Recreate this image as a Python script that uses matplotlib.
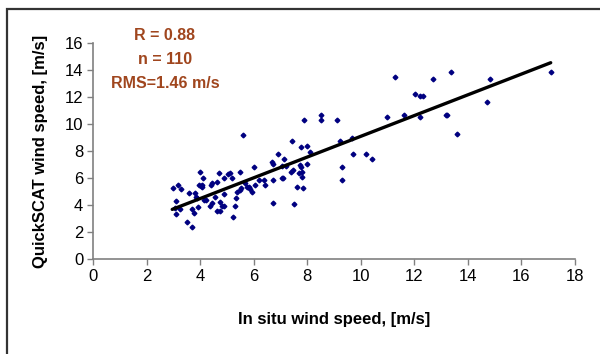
import numpy as np
import matplotlib.pyplot as plt
from matplotlib.patches import Rectangle

# In situ vs QuickSCAT wind speed (m/s)
insitu = [2.99, 3.10, 3.17, 3.10, 3.29, 3.24, 3.53, 3.59, 3.70, 3.70,
          3.76, 3.81, 3.84, 3.89, 3.93, 3.96, 3.99, 4.06, 4.07, 4.11,
          4.13, 4.24, 4.36, 4.39, 4.46, 4.43, 4.64, 4.64, 4.71, 4.76,
          4.74, 4.81, 4.89, 4.89, 4.91, 5.11, 5.19, 5.24, 5.30, 5.36,
          5.39, 5.49, 5.49, 5.53, 5.59, 5.67, 5.81, 5.86, 5.93, 6.00,
          6.07, 6.39, 6.44, 6.67, 6.71, 6.73, 6.73, 6.91, 7.07, 7.06,
          7.10, 7.14, 7.39, 7.43, 7.46, 7.50, 7.63, 7.70, 7.73, 7.76,
          7.77, 7.80, 7.81, 7.86, 7.89, 7.99, 8.00, 8.10, 8.53, 8.53,
          9.11, 9.24, 9.31, 9.31, 9.67, 9.71, 10.20, 10.43, 10.97, 11.27,
          11.63, 12.03, 12.21, 12.21, 12.34, 12.71, 13.17, 13.24, 13.36, 13.60,
          14.71, 14.84, 17.10, 3.05, 4.02, 4.55, 5.05, 5.75, 6.20, 7.20]
quikscat = [5.25, 4.31, 5.49, 3.33, 5.17, 3.69, 2.73, 4.93, 2.36, 3.69,
            3.45, 4.93, 4.63, 4.50, 3.84, 5.49, 6.45, 5.49, 5.37, 5.99,
            4.38, 4.38, 3.94, 5.49, 5.62, 4.19, 5.74, 3.60, 6.35, 3.60,
            4.21, 3.94, 5.99, 4.80, 3.97, 6.35, 5.99, 3.10, 3.94, 4.50,
            5.00, 6.43, 5.12, 5.30, 9.21, 5.62, 5.32, 5.17, 5.00, 6.85,
            5.49, 5.86, 5.49, 7.17, 7.04, 5.86, 4.19, 7.78, 6.92, 5.99,
            5.99, 7.41, 6.48, 8.77, 6.60, 4.09, 5.37, 6.35, 6.97, 8.28,
            6.85, 6.48, 6.11, 5.25, 10.30, 8.40, 7.04, 7.91, 10.67, 10.30,
            10.30, 8.74, 6.85, 5.86, 8.99, 7.78, 7.78, 7.41, 10.54, 13.50,
            10.67, 12.20, 12.09, 10.54, 12.09, 13.30, 10.67, 10.67, 13.87, 9.24,
            11.60, 13.30, 13.87, 3.80, 5.45, 4.60, 6.30, 5.35, 5.85, 6.90]

# linear fit line end points
fit_x = [2.96, 17.10]
fit_y = [3.69, 14.53]

stats = ["R = 0.88", "n = 110", "RMS=1.46 m/s"]

plt.rcParams['font.family'] = ['Liberation Sans', 'DejaVu Sans']

fig = plt.figure(figsize=(6, 3.54), dpi=100)
ax = fig.add_axes([0.155, 0.2675, 0.803, 0.6115])

ax.plot(insitu, quikscat, linestyle='none', marker='D', markersize=2.4,
        color='#000080')
ax.plot(fit_x, fit_y, color='black', linewidth=2.4, solid_capstyle='round')

ax.set_xlim(0, 18)
ax.set_ylim(0, 16)
ax.set_xticks(np.arange(0, 19, 2))
ax.set_yticks(np.arange(0, 17, 2))
ax.tick_params(direction='out', length=4, width=1, color='#808080',
               labelsize=12, pad=3)
for side in ['top', 'right']:
    ax.spines[side].set_visible(False)
for side in ['left', 'bottom']:
    ax.spines[side].set_color('#808080')
    ax.spines[side].set_linewidth(1.2)

ax.set_xlabel("In situ wind speed, [m/s]", fontsize=12, fontweight='bold',
              labelpad=20)
ax.set_ylabel("QuickSCAT wind speed, [m/s]", fontsize=12, fontweight='bold',
              labelpad=12)

# statistics text block
for i, s in enumerate(stats):
    fig.text(165 / 600, 1 - (35 + 24 * i) / 354, s, ha='center', va='center',
             fontsize=11.5, fontweight='bold', color='#A0461E')

# outer frame, runs off the right and bottom edges
fig.patches.append(Rectangle((6.5 / 600, -0.1), 1.2, 1 - 9.5 / 354 + 0.1,
                             transform=fig.transFigure, fill=False,
                             edgecolor='#333333', linewidth=1.6))

plt.savefig("out.png", dpi=100)
